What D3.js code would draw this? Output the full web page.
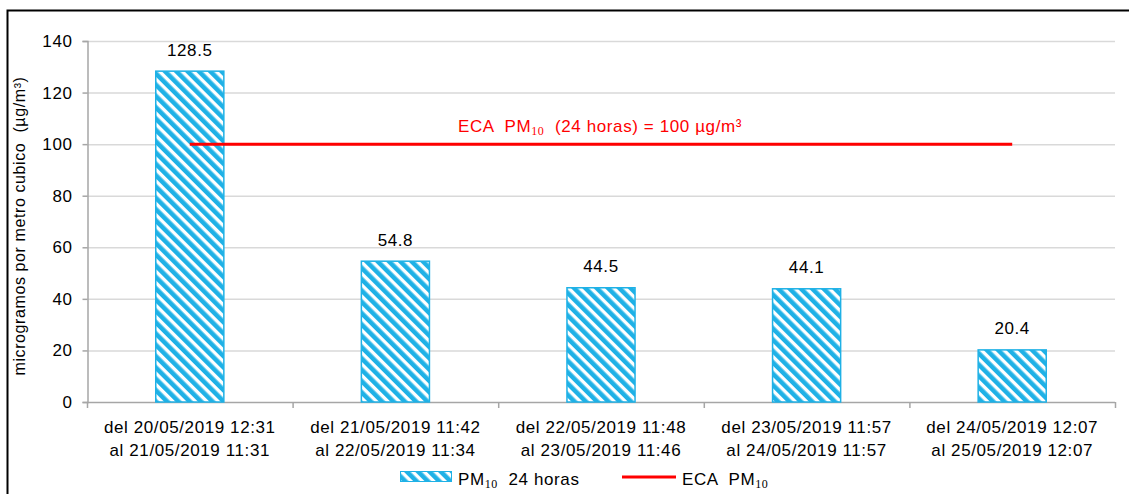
<!DOCTYPE html>
<html>
<head>
<meta charset="utf-8">
<script src="https://cdn.jsdelivr.net/npm/d3@7"></script>
<style>
  body { margin: 0; background: #fff; }
  text { font-family: "Liberation Sans", Arial, sans-serif; fill: #000; }
</style>
</head>
<body>
<svg id="canvas"></svg>
<script>
// data
let labelsTop = ["del 20/05/2019 12:31", "del 21/05/2019 11:42", "del 22/05/2019 11:48", "del 23/05/2019 11:57", "del 24/05/2019 12:07"];
let labelsBottom = ["al 21/05/2019 11:31", "al 22/05/2019 11:34", "al 23/05/2019 11:46", "al 24/05/2019 11:57", "al 25/05/2019 12:07"];
let pm10 = [128.5, 54.8, 44.5, 44.1, 20.4];
let ecaLimit = 100;
let yTicks = [0, 20, 40, 60, 80, 100, 120, 140];

let width = 1129;
let height = 494;
let plotLeft = 87, plotRight = 1115, plotTop = 41, plotBottom = 402;
let fs = '17px';
let ls = '0.6px';

let canvas = d3.select('#canvas');
canvas.attr('width', width).attr('height', height);

// hatch pattern for the bars
let defs = canvas.append('defs');
let pat = defs.append('pattern')
    .attr('id', 'hatch')
    .attr('patternUnits', 'userSpaceOnUse')
    .attr('width', 8).attr('height', 8)
    .attr('patternTransform', 'rotate(-45)');
pat.append('rect').attr('width', 8).attr('height', 8).attr('fill', '#fff');
pat.append('rect').attr('width', 4.6).attr('height', 8).attr('fill', '#1fb1e6');

// outer frame
canvas.append('rect')
    .attr('x', 7.5).attr('y', 10.5)
    .attr('width', 1130).attr('height', 500)
    .attr('fill', 'none').attr('stroke', '#000').attr('stroke-width', 2);

let xScale = d3.scaleBand()
    .domain(labelsTop)
    .range([plotLeft, plotRight])
    .paddingInner(0.664)
    .paddingOuter(0.332);

let xBand = d3.scaleBand().domain(labelsTop).range([plotLeft, plotRight]);

let yScale = d3.scaleLinear()
    .domain([0, 140])
    .range([plotBottom, plotTop]);

// grid
canvas.append('g')
    .selectAll('line')
    .data(yTicks.slice(1))
    .enter()
    .append('line')
    .attr('x1', plotLeft).attr('x2', plotRight)
    .attr('y1', d => yScale(d) + 0.5).attr('y2', d => yScale(d) + 0.5)
    .attr('stroke', '#d9d9d9').attr('stroke-width', 1.5);

// y axis
let yAxis = d3.axisLeft(yScale).tickValues(yTicks).tickSize(5).tickPadding(10);
let gy = canvas.append('g')
    .attr('transform', `translate(${plotLeft + 0.5},0)`)
    .call(yAxis);
gy.select('.domain').attr('stroke', '#a6a6a6').attr('stroke-width', 1.5);
gy.selectAll('.tick line').attr('stroke', '#a6a6a6').attr('stroke-width', 1.5);
gy.selectAll('.tick text')
    .style('font-family', '"Liberation Sans", Arial, sans-serif')
    .style('font-size', fs).style('letter-spacing', ls).attr('fill', '#000');

// x axis (ticks at band boundaries)
let gx = canvas.append('g');
gx.append('line')
    .attr('x1', plotLeft).attr('x2', plotRight)
    .attr('y1', plotBottom + 0.5).attr('y2', plotBottom + 0.5)
    .attr('stroke', '#a6a6a6').attr('stroke-width', 1.5);
let bounds = labelsTop.map(d => xBand(d)).concat([plotRight]);
gx.selectAll('line.tk')
    .data(bounds)
    .enter()
    .append('line')
    .attr('class', 'tk')
    .attr('x1', d => d + 0.5).attr('x2', d => d + 0.5)
    .attr('y1', plotBottom).attr('y2', plotBottom + 6)
    .attr('stroke', '#a6a6a6').attr('stroke-width', 1.5);

let xl = canvas.append('g').selectAll('text')
    .data(labelsTop)
    .enter()
    .append('text')
    .attr('x', d => xBand(d) + xBand.bandwidth() / 2)
    .attr('text-anchor', 'middle')
    .style('font-size', fs)
    .style('letter-spacing', ls);
xl.append('tspan').attr('y', 433).text(d => d);
xl.append('tspan')
    .attr('x', d => xBand(d) + xBand.bandwidth() / 2)
    .attr('y', 456)
    .text((d, i) => labelsBottom[i]);

// bars
canvas.append('g')
    .selectAll('rect')
    .data(pm10)
    .enter()
    .append('rect')
    .attr('x', (d, i) => xScale(labelsTop[i]) + 0.5)
    .attr('y', d => yScale(d) + 0.5)
    .attr('width', xScale.bandwidth() - 1)
    .attr('height', d => plotBottom - yScale(d) - 0.5)
    .attr('fill', 'url(#hatch)')
    .attr('stroke', '#1fb1e6').attr('stroke-width', 1.5);

// value labels
canvas.append('g')
    .selectAll('text')
    .data(pm10)
    .enter()
    .append('text')
    .attr('x', (d, i) => xBand(labelsTop[i]) + xBand.bandwidth() / 2)
    .attr('y', d => yScale(d) - 15)
    .attr('text-anchor', 'middle')
    .style('font-size', fs)
    .style('letter-spacing', ls)
    .text(d => d.toFixed(1));

// ECA line
let firstC = xBand(labelsTop[0]) + xBand.bandwidth() / 2;
let lastC = xBand(labelsTop[labelsTop.length - 1]) + xBand.bandwidth() / 2;
canvas.append('line')
    .attr('x1', firstC).attr('x2', lastC)
    .attr('y1', yScale(ecaLimit)).attr('y2', yScale(ecaLimit))
    .attr('stroke', '#ff0000').attr('stroke-width', 3);

let eca = canvas.append('text')
    .attr('x', 600).attr('y', 132)
    .attr('text-anchor', 'middle')
    .style('font-size', fs)
    .style('letter-spacing', ls)
    .attr('xml:space', 'preserve')
    .style('fill', '#ff0000');
eca.append('tspan').style('fill', '#ff0000').text('ECA  PM');
eca.append('tspan').style('fill', '#ff0000').attr('dy', 3).style('font-size', '12px')
    .style('font-family', '"Liberation Serif", serif').text('10');
eca.append('tspan').style('fill', '#ff0000').attr('dy', -3).text('  (24 horas) = 100 µg/m³');

// y label
canvas.append('text')
    .attr('transform', 'translate(25,226) rotate(-90)')
    .attr('text-anchor', 'middle')
    .style('font-size', '16px')
    .style('letter-spacing', '0.6px')
    .attr('xml:space', 'preserve')
    .text('microgramos por metro cubico  (µg/m³)');

// legend
let lg = canvas.append('g');
lg.append('rect')
    .attr('x', 400.5).attr('y', 471.5).attr('width', 51).attr('height', 10)
    .attr('fill', 'url(#hatch)').attr('stroke', '#1fb1e6').attr('stroke-width', 1);
let t1 = lg.append('text').attr('x', 458).attr('y', 485).style('font-size', fs)
    .style('letter-spacing', ls).attr('xml:space', 'preserve');
t1.append('tspan').text('PM');
t1.append('tspan').attr('dy', 3).style('font-size', '12px').style('font-family', '"Liberation Serif", serif').text('10');
t1.append('tspan').attr('dy', -3).text('  24 horas');
lg.append('line')
    .attr('x1', 622).attr('x2', 676).attr('y1', 477).attr('y2', 477)
    .attr('stroke', '#ff0000').attr('stroke-width', 3);
let t2 = lg.append('text').attr('x', 682).attr('y', 485).style('font-size', fs)
    .style('letter-spacing', ls).attr('xml:space', 'preserve');
t2.append('tspan').text('ECA  PM');
t2.append('tspan').attr('dy', 3).style('font-size', '12px').style('font-family', '"Liberation Serif", serif').text('10');
</script>
</body>
</html>
